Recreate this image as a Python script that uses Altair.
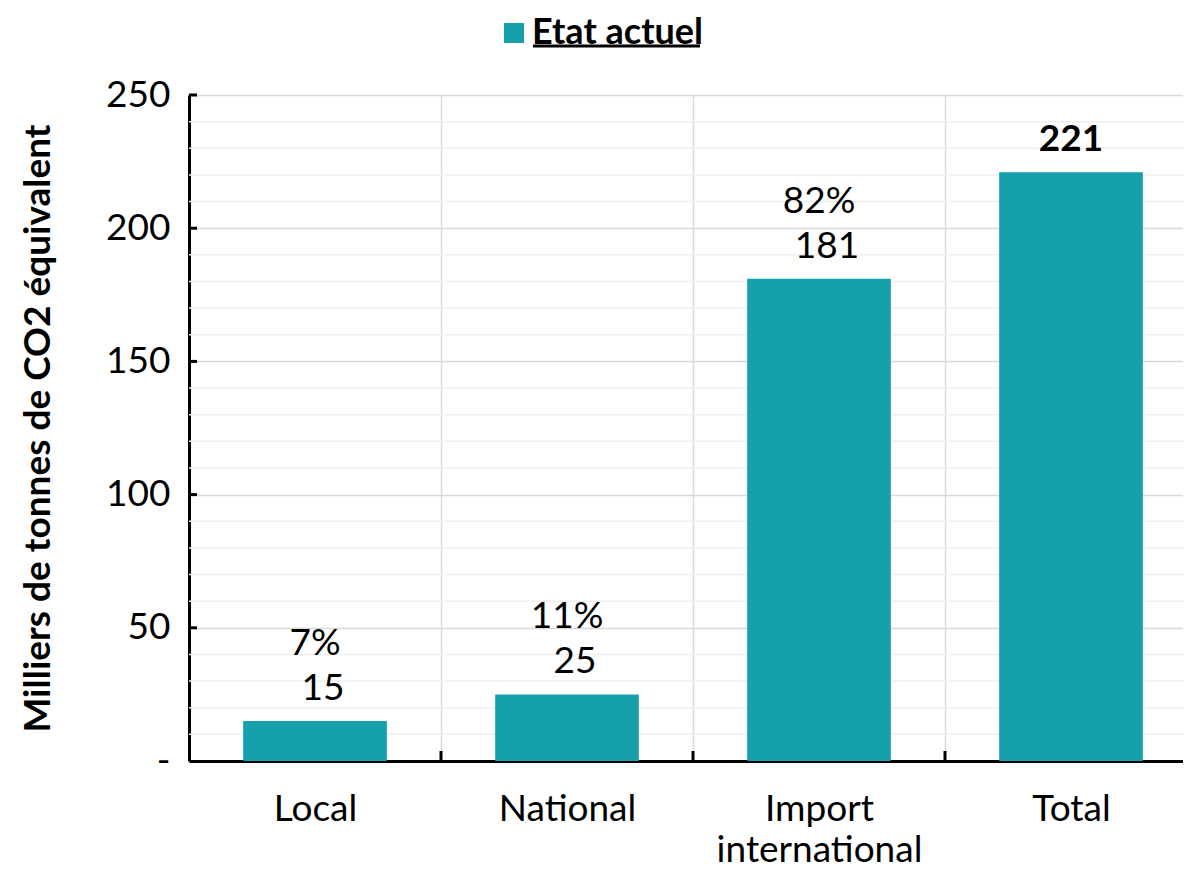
import altair as alt
import pandas as pd

categories = ["Local", "National", "Import international", "Total"]
values = [15, 25, 181, 221]
pct_labels = ["7%", "11%", "82%", ""]
series_name = "Etat actuel"
y_major = [0, 50, 100, 150, 200, 250]
y_minor = [v for v in range(10, 250, 10) if v % 50 != 0]

TEAL = "#16A0AC"
FONT = "Lato"
W, H = 994, 666
FS = 37

df = pd.DataFrame({"cat": categories, "val": values, "pct": pct_labels,
                   "series": [series_name] * 4})
df_parts = df[df["cat"] != "Total"]
df_total = df[df["cat"] == "Total"]
df_bound = pd.DataFrame({"cat": categories[1:]})
df_ytick = pd.DataFrame({"v": y_major[1:]})
df_minor = pd.DataFrame({"v": y_minor})
df_one = pd.DataFrame({"a": [0]})

xscale = alt.Scale(domain=categories, paddingInner=0, paddingOuter=0, range=[0, 1008])
yscale = alt.Scale(domain=[0, 250], nice=False)

x_axis = alt.Axis(
    title=None, labelAngle=0, tickSize=0, tickBand="extent", grid=True,
    gridColor="#d9d9d9", gridWidth=1.5,
    domainColor="#000000", domainWidth=3,
    labelFont=FONT, labelFontSize=FS, labelColor="#000000", labelPadding=30,
    labelLineHeight=41, labelLimit=600,
    labelExpr="datum.value == 'Import international' ? ['Import', 'international'] : datum.value",
)
y_axis = alt.Axis(
    title="Milliers de tonnes de CO2 équivalent", values=y_major, tickSize=0,
    grid=True, labelOverlap=False, gridColor="#d9d9d9", gridWidth=1.5,
    domainColor="#000000", domainWidth=3,
    labelFont=FONT, labelFontSize=FS, labelColor="#000000", labelPadding=19,
    labelExpr="datum.value === 0 ? '-' : datum.label",
    titleFont=FONT, titleFontSize=37, titleFontWeight="bold", titleColor="#000000",
    titlePadding=48, titleLimit=1000,
)

minor_grid = alt.Chart(df_minor).mark_rule(color="#efefef", strokeWidth=1.5).encode(
    y=alt.Y("v:Q", scale=yscale, axis=y_axis), x=alt.value(0), x2=alt.value(W))

bars = alt.Chart(df).mark_bar(width=alt.RelativeBandSize(0.57)).encode(
    x=alt.X("cat:N", scale=xscale, axis=x_axis, sort=categories),
    y=alt.Y("val:Q", scale=yscale, axis=y_axis),
    color=alt.Color("series:N", scale=alt.Scale(domain=[series_name], range=[TEAL]),
                    legend=alt.Legend(orient="none", legendX=307, legendY=-80, title=None,
                                      symbolType="square", symbolSize=400, symbolStrokeWidth=0,
                                      labelFont=FONT, labelFontSize=36, labelFontWeight="bold",
                                      labelColor="#000000", labelOffset=0, labelLimit=600)),
)

val_text = alt.Chart(df_parts).mark_text(font=FONT, fontSize=FS, dy=-21, dx=8,
                                         baseline="alphabetic", color="#000000").encode(
    x=alt.X("cat:N", scale=xscale, sort=categories, axis=x_axis),
    y=alt.Y("val:Q", scale=yscale, axis=y_axis), text="val:Q")
pct_text = alt.Chart(df_parts).mark_text(font=FONT, fontSize=FS, dy=-66,
                                         baseline="alphabetic", color="#000000").encode(
    x=alt.X("cat:N", scale=xscale, sort=categories, axis=x_axis),
    y=alt.Y("val:Q", scale=yscale, axis=y_axis), text="pct:N")
tot_text = alt.Chart(df_total).mark_text(font=FONT, fontSize=FS, fontWeight="bold", dy=-21,
                                         baseline="alphabetic", color="#000000").encode(
    x=alt.X("cat:N", scale=xscale, sort=categories, axis=x_axis),
    y=alt.Y("val:Q", scale=yscale, axis=y_axis), text="val:Q")

xticks = alt.Chart(df_bound).mark_rule(color="#000000", strokeWidth=3).encode(
    x=alt.X("cat:N", scale=xscale, sort=categories, bandPosition=0, axis=x_axis),
    y=alt.value(H - 10), y2=alt.value(H))
yticks = alt.Chart(df_ytick).mark_rule(color="#000000", strokeWidth=3).encode(
    y=alt.Y("v:Q", scale=yscale, axis=y_axis), x=alt.value(0), x2=alt.value(8))
underline = alt.Chart(df_one).mark_rule(color="#000000", strokeWidth=3).encode(
    x=alt.value(344), x2=alt.value(511), y=alt.value(-49))

chart = alt.layer(minor_grid, bars, xticks, yticks, val_text, pct_text, tot_text, underline).properties(
    width=W, height=H,
    autosize=alt.AutoSizeParams(type="none"),
    padding={"left": 181, "top": 87, "right": 0, "bottom": 107},
).configure_view(stroke=None)

chart.save("out.html", embed_options={"renderer": "svg", "actions": False})
